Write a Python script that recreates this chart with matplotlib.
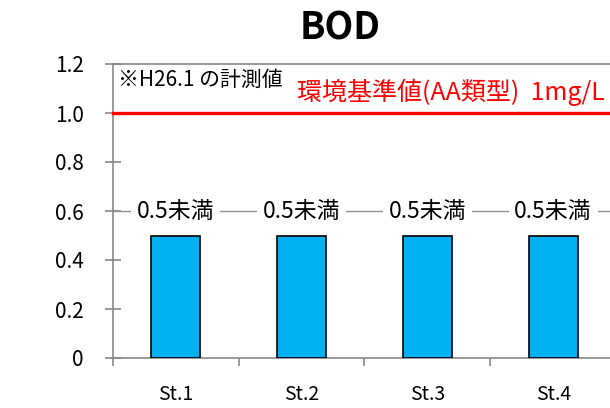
import matplotlib
matplotlib.use("Agg")
import matplotlib.pyplot as plt
import numpy as np

plt.rcParams['font.family'] = ['Noto Sans CJK JP', 'DejaVu Sans']

stations = ["St.1", "St.2", "St.3", "St.4"]
bod = [0.5, 0.5, 0.5, 0.5]
label_level = 0.6
label_text = ["0.5未満", "0.5未満", "0.5未満", "0.5未満"]
standard = 1.0
yticks = [0, 0.2, 0.4, 0.6, 0.8, 1.0, 1.2]
ytick_labels = ["0", "0.2", "0.4", "0.6", "0.8", "1.0", "1.2"]

W, H = 610, 408
fig = plt.figure(figsize=(W / 100, H / 100), dpi=100)
ax = fig.add_axes([113 / W, 1 - 358 / H, (616 - 113) / W, (358 - 64) / H])

x = np.arange(len(stations))
ax.bar(x, bod, width=0.39, color="#00B0F0", edgecolor="black", linewidth=1.2, zorder=3)

ax.set_xlim(-0.5, 3.5)
ax.set_ylim(0, 1.2)

# red reference line
ax.axhline(standard, color="#FF0000", lw=2.4, zorder=4, clip_on=False)

# gray line at 0.6 with labels
ax.axhline(label_level, color="#909090", lw=1.0, zorder=2)
for xi, t in zip(x, label_text):
    ax.text(xi, label_level, t, ha="center", va="center", fontsize=16.5,
            bbox=dict(boxstyle="square,pad=0.25", fc="white", ec="none"), zorder=3)

for s in ["left", "top", "bottom"]:
    ax.spines[s].set_color("#888888")
    ax.spines[s].set_linewidth(1.2)
ax.spines["right"].set_visible(False)

ax.set_yticks(yticks)
ax.set_yticklabels(ytick_labels, fontsize=15)
ax.tick_params(axis="y", direction="inout", length=12, width=1.2, color="#888888", pad=15)

ax.set_xticks(x)
ax.set_xticklabels(stations, fontsize=14)
ax.set_xticks(np.arange(-0.5, 4, 1), minor=True)
ax.tick_params(axis="x", which="major", length=0, pad=19)
ax.tick_params(axis="x", which="minor", direction="out", length=6, width=1.2, color="#888888")

fig.text(340 / W, 1 - 28 / H, "BOD", ha="center", va="center", fontsize=27, fontweight="bold")
ax.text(118 / W, 1 - 80 / H, "※H26.1 の計測値", transform=fig.transFigure,
        ha="left", va="center", fontsize=15)
ax.text(297 / W, 1 - 92 / H, "環境基準値(AA類型)  1mg/L", transform=fig.transFigure,
        ha="left", va="center", fontsize=18, color="#FF0000")

fig.savefig("out.png", dpi=100)
